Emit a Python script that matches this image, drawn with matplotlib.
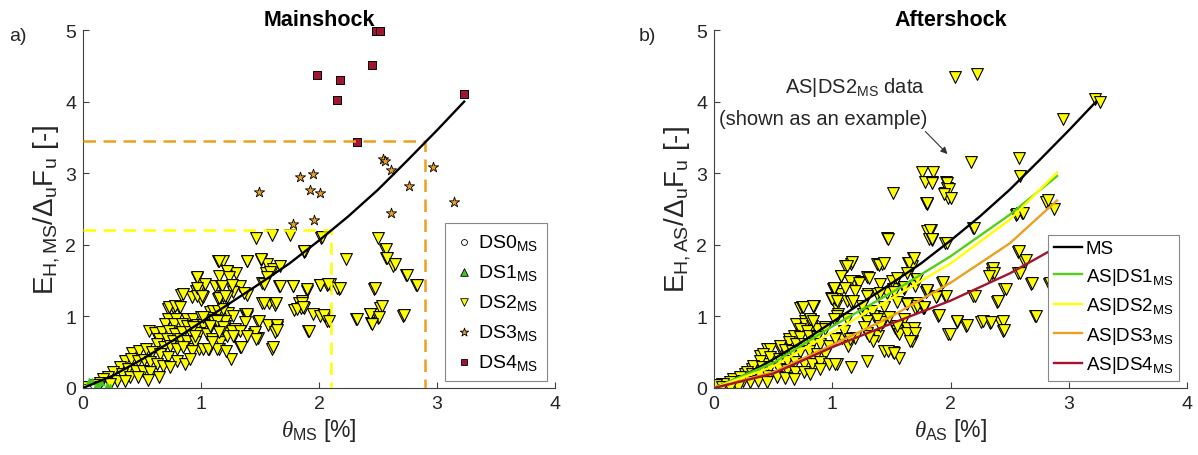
import matplotlib
matplotlib.use("Agg")
import matplotlib.pyplot as plt
import numpy as np

plt.rcParams['font.family'] = ['Liberation Sans', 'DejaVu Sans']
plt.rcParams['mathtext.fontset'] = 'custom'
plt.rcParams['mathtext.rm'] = 'Liberation Sans'
plt.rcParams['mathtext.it'] = 'Liberation Serif:italic'
plt.rcParams['mathtext.default'] = 'regular'

# ---------------- mainshock data ----------------
ds0_t = [0.02, 0.05, 0.08, 0.04]
ds0_e = [0.01, 0.02, 0.03, 0.00]
ds1_t = [0.05, 0.08, 0.15, 0.20, 0.23, 0.12]
ds1_e = [0.10, 0.10, 0.08, 0.03, 0.02, 0.05]

ms_ds2_t = [1.466, 1.60, 1.75, 2.02, 2.50, 2.56, 2.57, 2.63, 2.74, 2.82, 2.23, 1.87, 1.39, 1.51, 1.56, 1.61,
            1.67, 1.14, 1.19, 1.22, 1.30, 1.15, 1.12, 0.97, 1.02, 1.17, 1.25, 1.33, 1.39, 1.27, 1.16, 1.22,
            0.96, 0.83, 0.76, 0.81, 0.72, 1.00, 0.92, 1.52, 1.55, 1.66, 1.78, 1.90, 2.01, 2.07, 2.17, 2.47,
            1.52, 1.58, 1.63, 1.83, 1.85, 1.79, 2.52, 1.08, 1.18, 1.23, 1.37, 1.39, 1.48, 1.57, 1.64, 1.63,
            1.45, 1.48, 1.33, 1.25, 1.15, 1.60, 1.91, 1.95, 2.01, 2.07, 2.31, 2.43, 2.44, 2.50, 2.71, 1.07,
            0.98, 0.92, 1.09, 1.20, 1.28, 1.13, 1.20, 1.29,
            0.845, 0.977, 1.014, 0.963, 1.14, 1.19, 0.726, 0.78, 0.822, 1.099, 1.14, 1.19, 0.72, 0.79,
            0.88, 0.935, 0.997, 1.05, 1.10, 1.155, 0.695, 0.77, 0.836, 0.884, 0.963, 1.02, 1.076, 1.15,
            1.22, 0.562, 0.61, 0.667, 0.732, 0.779, 0.836, 0.907, 0.98, 1.05, 1.09, 1.16, 1.22, 0.647,
            0.709, 0.766, 0.822, 0.884, 0.949, 1.014, 1.062, 1.133, 1.212, 0.624, 0.686, 0.737, 0.794,
            0.85, 0.921, 0.413, 0.478, 0.534, 0.582, 0.652, 0.723, 0.794, 0.864, 0.907, 0.356, 0.404,
            0.469, 0.517, 0.568, 0.624, 0.681, 0.737, 0.314, 0.384, 0.449, 0.511, 0.568, 0.644, 0.257,
            0.328, 0.398, 0.469, 0.554, 0.215, 0.172, 0.285, 0.356, 0.144, 0.229, 0.102, 0.059, 0.03, 0.13,
            1.88, 1.155, 1.39, 1.505, 1.585, 1.557, 1.223, 1.24, 0.969, 1.034, 1.176, 1.26, 1.53, 1.67,
            1.783, 2.09, 2.15, 0.963, 1.006, 1.152, 1.20, 1.36, 1.53, 1.636, 1.853, 1.81, 1.87, 2.05,
            1.647, 1.647, 1.495, 1.387, 1.37, 1.274, 1.20, 1.133, 1.02, 1.076, 1.19, 1.26, 1.33, 1.457,
            1.47, 1.39, 1.275, 1.155, 0.93, 0.95, 1.09, 1.336, 1.61,
            2.565, 2.58, 2.64, 2.749, 2.83, 2.022, 1.873, 1.90, 2.009, 2.08, 2.178, 2.475, 1.853, 1.86,
            2.042, 2.087, 2.32, 2.433, 2.53, 2.508, 2.446, 2.72, 1.918]
ms_ds2_e = [2.09, 2.13, 2.13, 2.10, 2.09, 1.93, 1.82, 1.71, 1.58, 1.44, 1.80, 1.90, 1.78, 1.79, 1.73, 1.66,
            1.70, 1.78, 1.77, 1.63, 1.61, 1.56, 1.43, 1.54, 1.44, 1.42, 1.42, 1.43, 1.30, 1.34, 1.26, 1.27,
            1.35, 1.30, 1.13, 1.13, 1.11, 1.23, 1.27, 1.47, 1.61, 1.43, 1.42, 1.36, 1.44, 1.44, 1.38, 1.38,
            1.19, 1.18, 1.16, 1.19, 1.12, 1.09, 1.12, 1.06, 1.07, 1.05, 1.03, 1.00, 0.92, 0.88, 0.85, 0.78,
            0.75, 0.70, 0.57, 0.41, 0.55, 0.54, 0.79, 1.03, 1.01, 0.93, 0.96, 1.04, 0.91, 0.98, 1.01, 0.55,
            0.54, 0.54, 0.66, 0.75, 0.72, 0.90, 0.86, 0.82,
            1.31, 1.36, 1.27, 1.29, 1.24, 1.29, 1.13, 1.14, 1.13, 1.08, 1.08, 1.10, 0.97, 0.97,
            0.96, 0.96, 0.99, 0.98, 0.95, 0.93, 0.89, 0.89, 0.89, 0.87, 0.88, 0.88, 0.85, 0.80,
            0.78, 0.79, 0.77, 0.78, 0.80, 0.76, 0.78, 0.78, 0.77, 0.75, 0.68, 0.64, 0.73, 0.69,
            0.68, 0.66, 0.69, 0.66, 0.64, 0.55, 0.55, 0.55, 0.52, 0.61, 0.57, 0.58, 0.55,
            0.57, 0.52, 0.49, 0.52, 0.55, 0.50, 0.48, 0.43, 0.38, 0.34, 0.41, 0.38, 0.40,
            0.38, 0.39, 0.36, 0.34, 0.31, 0.29, 0.29, 0.26, 0.24, 0.24, 0.22, 0.16, 0.22,
            0.20, 0.16, 0.15, 0.11, 0.16, 0.12, 0.10, 0.10, 0.07, 0.05, 0.04, 0.01, 0.01, 0.01,
            1.91, 1.78, 1.78, 1.80, 1.62, 1.55, 1.64, 1.55, 1.55, 1.45, 1.43, 1.44, 1.45, 1.42,
            1.42, 1.45, 1.39, 1.40, 1.29, 1.26, 1.28, 1.33, 1.19, 1.19, 1.22, 1.10, 1.12, 1.01,
            0.88, 0.81, 0.94, 1.03, 0.92, 1.01, 0.93, 0.93, 0.99, 0.87, 0.85, 0.80, 0.79, 0.78,
            0.69, 0.73, 0.72, 0.78, 0.85, 0.73, 0.64, 0.57, 0.57,
            1.94, 1.82, 1.73, 1.58, 1.44, 2.11, 1.91, 1.38, 1.44, 1.45, 1.39, 1.39, 1.19, 1.13,
            1.02, 0.94, 0.97, 1.04, 1.14, 0.99, 0.89, 1.02, 0.79]

ms_ds3_t = [1.49, 1.84, 1.95, 1.92, 2.01, 1.78, 1.96, 2.54, 2.56, 2.61, 2.61, 2.76, 2.97, 3.14]
ms_ds3_e = [2.74, 2.94, 2.99, 2.77, 2.73, 2.29, 2.34, 3.20, 3.17, 3.05, 2.45, 2.82, 3.08, 2.60]

ms_ds4_t = [1.98, 2.155, 2.18, 2.45, 2.48, 2.52, 2.32, 3.23]
ms_ds4_e = [4.37, 4.02, 4.30, 4.51, 4.98, 4.99, 3.43, 4.10]

# median curves
ms_t = [0, 0.25, 0.5, 0.75, 1.0, 1.25, 1.5, 1.75, 2.0, 2.25, 2.5, 2.75, 3.0, 3.23]
ms_e = [0, 0.17, 0.40, 0.65, 0.92, 1.19, 1.46, 1.74, 2.06, 2.40, 2.77, 3.18, 3.60, 4.0]

as_t = [0, 0.5, 1.0, 1.5, 2.0, 2.5, 2.9]
as_ds1_e = [0, 0.35, 0.86, 1.33, 1.84, 2.42, 2.96]
as_ds2_e = [0, 0.30, 0.78, 1.25, 1.74, 2.35, 3.01]
as_ds3_e = [0, 0.22, 0.60, 1.00, 1.47, 2.02, 2.62]
as_ds4_e = [0, 0.20, 0.57, 0.90, 1.22, 1.60, 1.97]

# ---------------- aftershock data (AS|DS2) ----------------
as_pts_t = [2.04, 2.22, 3.22, 3.26, 2.95, 2.58, 2.17, 2.59, 1.76, 1.85, 1.78, 1.84, 1.96, 1.97, 1.95, 1.98,
            1.51, 1.79, 1.80, 1.82, 1.84, 1.95, 2.19, 2.55, 2.60, 2.81, 2.87, 1.46, 2.57, 2.62, 2.57, 2.35,
            2.35, 2.45, 2.68, 2.83, 2.39, 2.19, 1.93, 1.95, 1.89, 2.05, 2.13, 2.26, 2.33, 2.42, 2.44, 2.71,
            1.98, 1.68, 1.64, 1.67, 1.71, 1.70, 1.79, 1.61, 1.62, 1.71, 1.70, 1.77, 1.61, 1.53, 1.63, 1.69,
            1.67, 1.55, 1.56, 1.44, 1.51, 1.38, 1.42, 1.16, 1.11, 1.07, 1.29, 1.18, 1.22, 1.30, 1.38, 1.46,
            1.51, 1.005, 1.06, 0.985, 1.03, 1.05, 1.12, 1.16, 1.26, 1.35, 1.44, 1.43, 1.29, 1.39, 1.34, 1.19,
            1.13, 1.04, 1.16, 1.29, 1.08, 0.725, 0.84, 0.77, 0.69, 0.81, 0.63, 0.56, 0.45, 0.39, 0.42, 0.32,
            0.26, 0.16, 0.064, 0.016,
            0.743, 0.842, 1.011, 1.025, 1.04, 0.808, 0.77, 0.828, 0.729, 0.785, 0.87, 0.94, 0.672, 0.729,
            0.80, 0.87, 0.63, 0.695, 0.757, 0.828, 0.898, 0.97, 0.554, 0.602, 0.658, 0.729, 0.80, 0.87,
            0.94, 0.475, 0.418, 0.475, 0.546, 0.616, 0.686, 0.757, 0.828, 0.898, 0.97, 1.025, 0.39, 0.333,
            0.404, 0.475, 0.546, 0.616, 0.686, 0.757, 0.813, 0.898, 0.277, 0.319, 0.39, 0.46, 0.53, 0.60,
            0.672, 0.22, 0.249, 0.305, 0.376, 0.446, 0.136, 0.079, 0.02, 0.178, 0.065, 0.207, 0.136,
            1.797, 1.83, 1.845, 1.47, 1.167, 1.124, 1.393, 1.435, 1.647, 1.689, 1.074, 1.153, 1.223, 1.308,
            1.407, 1.506, 1.548, 1.633, 1.717, 1.011, 1.11, 1.195, 1.294, 1.407, 1.52, 1.605, 1.80, 1.887,
            0.996, 1.04, 1.175, 1.251, 1.336, 1.435, 1.548, 1.633, 1.717, 1.774, 0.75, 0.84, 0.808, 0.84,
            1.011, 1.124, 1.294, 1.379, 1.478, 1.407, 1.266, 1.096, 0.94, 1.025, 1.153, 1.308, 1.563, 1.633,
            1.70, 1.66, 1.548, 1.47, 1.52,
            1.845, 1.97, 1.986, 1.943, 2.0, 1.797, 2.20, 1.825, 1.845, 1.966, 2.82, 2.565, 2.616, 2.58,
            2.635, 2.36, 2.367, 2.325, 2.59, 2.69, 2.84, 2.466, 1.935, 1.80, 1.957, 1.88, 2.21, 2.40, 1.774,
            1.90, 2.056, 2.14, 2.27, 2.345, 2.44, 2.45, 2.72, 1.994]
as_pts_e = [4.34, 4.38, 4.04, 3.99, 3.76, 3.21, 3.15, 2.96, 3.02, 3.02, 2.88, 2.87, 2.87, 2.79, 2.72, 2.65,
            2.73, 2.58, 2.19, 2.08, 2.07, 2.03, 2.23, 2.42, 2.45, 2.60, 2.50, 2.09, 1.90, 1.78, 1.60, 1.66,
            1.61, 1.38, 1.45, 1.45, 1.20, 1.29, 1.46, 1.28, 1.01, 0.92, 0.86, 0.92, 0.91, 0.92, 0.80, 1.00,
            0.75, 1.82, 1.75, 1.70, 1.52, 1.42, 1.34, 1.38, 1.18, 1.18, 1.12, 1.12, 0.96, 0.84, 0.84, 0.84,
            0.65, 0.79, 0.42, 0.51, 0.50, 1.73, 1.73, 1.73, 1.70, 1.56, 1.55, 1.50, 1.48, 1.31, 1.31, 1.33,
            1.38, 1.38, 1.31, 1.25, 1.14, 1.04, 1.21, 1.20, 1.03, 1.00, 0.99, 0.92, 0.77, 0.72, 0.65, 0.70,
            0.58, 0.34, 0.29, 0.37, 0.70, 1.12, 1.15, 0.93, 0.90, 0.85, 0.68, 0.54, 0.54, 0.44, 0.33, 0.26,
            0.19, 0.12, 0.05, 0.02,
            1.13, 1.14, 1.38, 1.24, 1.01, 0.95, 0.89, 0.87, 0.82, 0.80, 0.82, 0.85, 0.73, 0.71,
            0.72, 0.71, 0.64, 0.61, 0.61, 0.61, 0.61, 0.59, 0.59, 0.53, 0.52, 0.50, 0.52, 0.47,
            0.47, 0.55, 0.48, 0.43, 0.41, 0.38, 0.36, 0.34, 0.34, 0.36, 0.34, 0.34, 0.38, 0.31,
            0.29, 0.29, 0.26, 0.25, 0.23, 0.22, 0.19, 0.26, 0.23, 0.20, 0.17, 0.17, 0.15, 0.14,
            0.13, 0.16, 0.10, 0.09, 0.10, 0.08, 0.08, 0.06, 0.04, 0.03, 0.02, 0.01, 0.00,
            2.57, 2.20, 2.08, 2.08, 1.76, 1.71, 1.72, 1.75, 1.75, 1.81, 1.56, 1.50, 1.47, 1.53,
            1.45, 1.49, 1.54, 1.60, 1.52, 1.39, 1.39, 1.36, 1.29, 1.33, 1.34, 1.41, 1.36, 1.29,
            1.24, 1.22, 1.22, 1.15, 1.08, 1.13, 1.20, 1.17, 1.15, 1.12, 1.13, 1.15, 0.97, 0.94,
            0.97, 0.97, 0.94, 0.97, 0.99, 0.87, 0.85, 0.80, 0.83, 0.69, 0.69, 0.73, 0.75, 0.77,
            0.77, 0.66, 0.87, 0.52, 0.49,
            2.86, 2.86, 2.78, 2.71, 2.66, 2.58, 2.24, 2.20, 2.08, 2.03, 2.62, 2.43, 2.45, 1.92,
            1.79, 1.67, 1.61, 1.56, 1.61, 1.46, 1.46, 1.38, 1.48, 1.37, 1.29, 1.27, 1.29, 1.22, 1.13,
            1.02, 0.93, 0.88, 0.93, 0.92, 0.94, 0.81, 1.01, 0.75]

c_yellow = '#FFFF00'
c_green = '#52D017'
c_orange = '#EDA020'
c_red = '#A2142F'
c_axis = '#404040'
c_text = '#262626'

fig = plt.figure(figsize=(11.98, 4.56), dpi=100)
ax1 = fig.add_axes([0.0693, 0.147, 0.394, 0.785])
ax2 = fig.add_axes([0.596, 0.147, 0.395, 0.785])


def style(ax):
    ax.set_xlim(0, 4)
    ax.set_ylim(0, 5)
    ax.set_xticks([0, 1, 2, 3, 4])
    ax.set_yticks([0, 1, 2, 3, 4, 5])
    for s in ['top', 'right']:
        ax.spines[s].set_visible(False)
    for s in ['left', 'bottom']:
        ax.spines[s].set_color(c_axis)
        ax.spines[s].set_linewidth(0.8)
    ax.tick_params(direction='in', length=4, width=0.8, color=c_axis, labelsize=14,
                   labelcolor=c_text, pad=5)


tri = dict(marker='v', s=72, c=c_yellow, edgecolors='black', linewidths=0.8)

# ---- a) mainshock ----
ax1.scatter(ms_ds2_t, ms_ds2_e, zorder=2, **tri)
ax1.scatter(ds0_t, ds0_e, marker='o', s=18, facecolors='white', edgecolors='black', linewidths=0.6, zorder=2)
ax1.scatter(ds1_t, ds1_e, marker='^', s=22, c='#3FC81E', edgecolors='#3FC81E', linewidths=0.6, zorder=2)
ax1.scatter(ms_ds3_t, ms_ds3_e, marker='*', s=60, c=c_orange, edgecolors='black', linewidths=0.6, zorder=3)
ax1.scatter(ms_ds4_t, ms_ds4_e, marker='s', s=40, c=c_red, edgecolors='black', linewidths=0.7, zorder=3,
            clip_on=False)
ax1.plot([0, 2.1, 2.1], [2.2, 2.2, 0], '--', color=c_yellow, lw=1.8, dashes=(5, 3), zorder=3)
ax1.plot([0, 2.9, 2.9], [3.45, 3.45, 0], '--', color=c_orange, lw=1.8, dashes=(5, 3), zorder=3)
ax1.plot(ms_t, ms_e, color='black', lw=1.7, zorder=4)
style(ax1)
ax1.set_title('Mainshock', fontsize=15.5, fontweight='bold', pad=3)
ax1.set_xlabel(r'$\mathit{\theta}_{MS}$ [%]', fontsize=16.5, color=c_text, labelpad=3)
ax1.set_ylabel(r'E$_{H,MS}$/$\Delta_u$F$_u$ [-]', fontsize=20, color=c_text, labelpad=2)
fig.text(0.008, 0.91, 'a)', fontsize=14, color=c_text)

h0 = ax1.scatter([], [], marker='o', s=18, facecolors='white', edgecolors='black', linewidths=0.6)
h1 = ax1.scatter([], [], marker='^', s=30, c='#3FC81E', edgecolors='black', linewidths=0.6)
h2 = ax1.scatter([], [], marker='v', s=30, c=c_yellow, edgecolors='black', linewidths=0.6)
h3 = ax1.scatter([], [], marker='*', s=40, c=c_orange, edgecolors='black', linewidths=0.6)
h4 = ax1.scatter([], [], marker='s', s=25, c=c_red, edgecolors='black', linewidths=0.6)
leg1 = ax1.legend([h0, h1, h2, h3, h4],
                  ['DS0$_{MS}$', 'DS1$_{MS}$', 'DS2$_{MS}$', 'DS3$_{MS}$', 'DS4$_{MS}$'],
                  loc='lower right', bbox_to_anchor=(0.983, 0.02), borderaxespad=0, fontsize=14,
                  fancybox=False, edgecolor='#888888', framealpha=1, handletextpad=0.25,
                  labelspacing=0.52, borderpad=0.45, handlelength=1.0)
leg1.get_frame().set_linewidth(0.8)

# ---- b) aftershock ----
ax2.scatter(as_pts_t, as_pts_e, zorder=2, **tri)
ax2.plot(ms_t, ms_e, color='black', lw=1.7, zorder=4, label='MS')
ax2.plot(as_t, as_ds1_e, color=c_green, lw=1.7, zorder=4, label='AS|DS1$_{MS}$')
ax2.plot(as_t, as_ds2_e, color=c_yellow, lw=1.7, zorder=4, label='AS|DS2$_{MS}$')
ax2.plot(as_t, as_ds3_e, color=c_orange, lw=1.7, zorder=4, label='AS|DS3$_{MS}$')
ax2.plot(as_t, as_ds4_e, color=c_red, lw=1.7, zorder=4, label='AS|DS4$_{MS}$')
style(ax2)
ax2.set_title('Aftershock', fontsize=15.5, fontweight='bold', pad=3)
ax2.set_xlabel(r'$\mathit{\theta}_{AS}$ [%]', fontsize=16.5, color=c_text, labelpad=3)
ax2.set_ylabel(r'E$_{H,AS}$/$\Delta_u$F$_u$ [-]', fontsize=20, color=c_text, labelpad=2)
fig.text(0.533, 0.91, 'b)', fontsize=14, color=c_text)
leg2 = ax2.legend(loc='lower right', bbox_to_anchor=(0.983, 0.02), borderaxespad=0, fontsize=13.5,
                  fancybox=False, edgecolor='#888888', framealpha=1, handletextpad=0.2,
                  labelspacing=0.45, borderpad=0.3, handlelength=1.5)
leg2.get_frame().set_linewidth(0.8)

ax2.annotate('', xy=(1.99, 3.24), xytext=(1.77, 3.61),
             arrowprops=dict(arrowstyle='-|>', color='#333333', lw=0.8, mutation_scale=10), zorder=5)
ax2.text(1.195, 4.21, 'AS|DS2$_{MS}$ data', ha='center', va='center', fontsize=14.5, color=c_text)
ax2.text(0.92, 3.77, '(shown as an example)', ha='center', va='center', fontsize=14.5, color=c_text)

fig.savefig('out.png', dpi=100)
